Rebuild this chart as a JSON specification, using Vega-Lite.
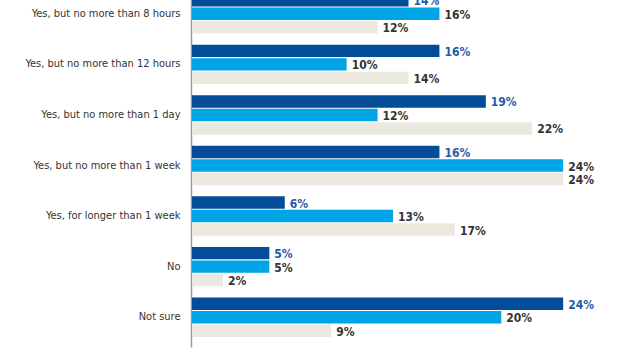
{
  "$schema": "https://vega.github.io/schema/vega-lite/v6.json",
  "width": 433,
  "height": 363,
  "autosize": {"type": "none"},
  "padding": {"left": 192, "top": -16, "right": 15, "bottom": 29},
  "background": "white",
  "config": {"view": {"stroke": null}, "font": "DejaVu Sans Condensed, Roboto"},
  "data": {"values": [
    {"cat": "Yes, but no more than 8 hours", "s": "A", "v": 14},
    {"cat": "Yes, but no more than 8 hours", "s": "B", "v": 16},
    {"cat": "Yes, but no more than 8 hours", "s": "C", "v": 12},
    {"cat": "Yes, but no more than 12 hours", "s": "A", "v": 16},
    {"cat": "Yes, but no more than 12 hours", "s": "B", "v": 10},
    {"cat": "Yes, but no more than 12 hours", "s": "C", "v": 14},
    {"cat": "Yes, but no more than 1 day", "s": "A", "v": 19},
    {"cat": "Yes, but no more than 1 day", "s": "B", "v": 12},
    {"cat": "Yes, but no more than 1 day", "s": "C", "v": 22},
    {"cat": "Yes, but no more than 1 week", "s": "A", "v": 16},
    {"cat": "Yes, but no more than 1 week", "s": "B", "v": 24},
    {"cat": "Yes, but no more than 1 week", "s": "C", "v": 24},
    {"cat": "Yes, for longer than 1 week", "s": "A", "v": 6},
    {"cat": "Yes, for longer than 1 week", "s": "B", "v": 13},
    {"cat": "Yes, for longer than 1 week", "s": "C", "v": 17},
    {"cat": "No", "s": "A", "v": 5},
    {"cat": "No", "s": "B", "v": 5},
    {"cat": "No", "s": "C", "v": 2},
    {"cat": "Not sure", "s": "A", "v": 24},
    {"cat": "Not sure", "s": "B", "v": 20},
    {"cat": "Not sure", "s": "C", "v": 9}
  ]},
  "transform": [{"calculate": "datum.v + '%'", "as": "label"}],
  "encoding": {
    "y": {
      "field": "cat", "type": "nominal", "sort": null,
      "scale": {"paddingInner": 0.22, "paddingOuter": 0.2},
      "axis": {"title": null, "ticks": false, "labelPadding": 11, "labelFontSize": 11, "labelColor": "#333333", "domainColor": "#9a9a9a", "domainWidth": 1.5, "offset": 1, "labelLimit": 300}
    },
    "yOffset": {"field": "s", "type": "nominal", "scale": {"paddingInner": 0.08, "paddingOuter": 0}},
    "x": {"field": "v", "type": "quantitative", "scale": {"domain": [0, 28], "nice": false}, "axis": null}
  },
  "layer": [
    {
      "mark": {"type": "bar"},
      "encoding": {
        "color": {"field": "s", "type": "nominal", "legend": null,
          "scale": {"domain": ["A", "B", "C"], "range": ["#034C98", "#01A4E4", "#EAE8DF"]}}
      }
    },
    {
      "mark": {"type": "text", "align": "left", "baseline": "middle", "dx": 5, "dy": 1, "fontSize": 12, "fontWeight": "bold"},
      "encoding": {
        "text": {"field": "label", "type": "nominal"},
        "color": {"condition": {"test": "datum.s === 'A'", "value": "#1F5BAA"}, "value": "#333333"}
      }
    }
  ]
}
